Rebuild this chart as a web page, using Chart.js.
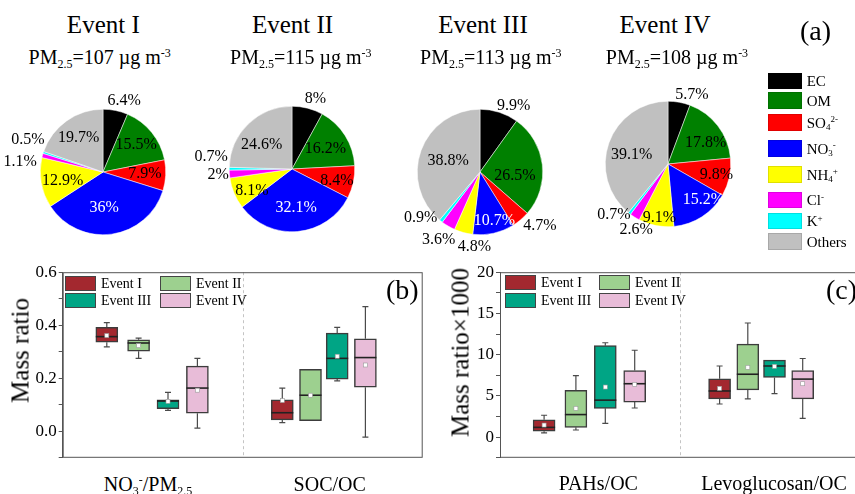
<!DOCTYPE html>
<html lang="en">
<head>
<meta charset="UTF-8">
<title>PM2.5 composition and mass ratios</title>
<script src="https://cdn.jsdelivr.net/npm/chart.js@4.4.0/dist/chart.umd.min.js"></script>
<style>
    body {
        margin: 0;
        width: 855px;
        height: 494px;
        position: relative;
        overflow: hidden;
        background: #fff;
        font-family: 'Liberation Serif', 'Times New Roman', serif;
        color: #000;
    }
    canvas { position: absolute; }
    .txt { position: absolute; white-space: nowrap; line-height: 1; }
    .center { text-align: center; width: 240px; }
    .s { position: relative; font-size: 0.6em; vertical-align: baseline; }
    .sub { top: 0.3em; }
    .sup { top: -0.6em; }
    .swatch { position: absolute; box-sizing: border-box; }
</style>
</head>
<body>
<div id="page"></div>
<script>
    // ---- panel (a): PM2.5 composition (%) ----
    const species = ['EC', 'OM', 'SO4 2-', 'NO3 -', 'NH4 +', 'Cl-', 'K+', 'Others'];
    const speciesHtml = ['EC', 'OM', 'SO<span class="s sub">4</span><span class="s sup">2-</span>',
        'NO<span class="s sub">3</span><span class="s sup">-</span>',
        'NH<span class="s sub">4</span><span class="s sup">+</span>',
        'Cl<span class="s sup">-</span>', 'K<span class="s sup">+</span>', 'Others'];
    const speciesColors = ['#000000', '#008000', '#ff0000', '#0000ff', '#ffff00', '#ff00ff', '#00ffff', '#c0c0c0'];

    const eventNames = ['Event I', 'Event II', 'Event III', 'Event IV'];
    const pm25 = [107, 115, 113, 108];
    const shareEventI = [6.4, 15.5, 7.9, 36, 12.9, 1.1, 0.5, 19.7];
    const shareEventII = [8, 16.2, 8.4, 32.1, 8.1, 2, 0.7, 24.6];
    const shareEventIII = [9.9, 26.5, 4.7, 10.7, 4.8, 3.6, 0.9, 38.8];
    const shareEventIV = [5.7, 17.8, 9.8, 15.2, 9.1, 2.6, 0.7, 39.1];
    const shares = [shareEventI, shareEventII, shareEventIII, shareEventIV];

    // ---- panel (b): mass ratios, rows = events, cols = [NO3-/PM2.5, SOC/OC] ----
    const bMin = [[0.318, 0.033], [0.275, 0.040], [0.079, 0.190], [0.012, -0.022]];
    const bQ1 = [[0.336, 0.043], [0.302, 0.040], [0.085, 0.197], [0.068, 0.166]];
    const bMedian = [[0.357, 0.070], [0.333, 0.136], [0.114, 0.275], [0.163, 0.278]];
    const bQ3 = [[0.392, 0.119], [0.345, 0.234], [0.119, 0.370], [0.246, 0.349]];
    const bMax = [[0.410, 0.163], [0.351, 0.234], [0.147, 0.392], [0.275, 0.470]];
    const bMean = [[0.361, 0.116], [0.323, 0.136], [0.113, 0.283], [0.155, 0.250]];

    // ---- panel (c): mass ratio x1000, cols = [PAHs/OC, Levoglucosan/OC] ----
    const cMin = [[0.52, 4.02], [0.87, 4.65], [1.67, 5.29], [3.54, 2.27]];
    const cQ1 = [[0.72, 4.65], [1.19, 5.73], [3.50, 7.24], [4.25, 4.65]];
    const cMedian = [[1.19, 5.60], [2.74, 7.63], [4.49, 8.63], [6.48, 7.04]];
    const cQ3 = [[2.10, 7.08], [5.69, 11.29], [11.09, 9.34], [8.07, 8.07]];
    const cMax = [[2.66, 8.63], [7.47, 13.84], [11.45, 9.34], [10.54, 9.54]];
    const cMean = [[1.47, 5.92], [3.50, 8.47], [6.08, 8.59], [6.40, 6.48]];

    const eventColors = ['#a3282f', '#9dd08f', '#00a585', '#e8bcd8'];

    // layout only
    const pieCenters = [[103.2, 171.7], [291.8, 168.5], [480.2, 171.8], [668.3, 164.4]];
    const titleX = [103.3, 292.5, 483, 665];
    const pmX = [99.7, 300.8, 490.8, 677];
    // [radius factor, angle shift in degrees] for each slice label
    const pieLabelPlace = [
        [[1.19, 5], [0.68, 0], [0.67, 0], [0.57, 6], [0.66, -3], [1.33, -8], [1.3, 5], [0.67, 0]],
        [[1.18, 4], [0.62, 1], [0.74, 2], [0.62, -1], [0.73, -6], [1.18, 0], [1.3, 8], [0.62, -7]],
        [[1.19, 9], [0.56, 12], [1.28, -8], [0.81, -4], [1.2, -11], [1.26, 1], [1.19, 14], [0.54, 0]],
        [[1.16, 9], [0.69, 8], [0.79, 0], [0.8, -12], [0.87, -2], [1.16, -6], [1.18, 9], [0.6, -5]]
    ];
    const slotX = [[0.47, 6.32], [1.53, 7.26], [2.51, 8.15], [3.49, 9.09]];

    Chart.defaults.font.family = "'Liberation Serif', 'Times New Roman', serif";
    Chart.defaults.color = '#000';

    const page = document.getElementById('page');

    function addText(html, left, top, size, cls) {
        const d = document.createElement('div');
        d.className = 'txt' + (cls ? ' ' + cls : '');
        d.style.left = left + 'px';
        d.style.top = top + 'px';
        d.style.fontSize = size + 'px';
        d.innerHTML = html;
        page.appendChild(d);
        return d;
    }

    function addCanvas(left, top, w, h) {
        const c = document.createElement('canvas');
        c.width = w;
        c.height = h;
        c.style.left = left + 'px';
        c.style.top = top + 'px';
        c.style.width = w + 'px';
        c.style.height = h + 'px';
        page.appendChild(c);
        return c;
    }

    // pie slice labels
    const pieLabels = {
        id: 'pieLabels',
        afterDatasetsDraw(chart, args, opts) {
            const ctx = chart.ctx;
            const meta = chart.getDatasetMeta(0);
            const values = chart.data.datasets[0].data;
            ctx.save();
            ctx.font = "16px 'Liberation Serif'";
            ctx.textAlign = 'center';
            ctx.textBaseline = 'middle';
            meta.data.forEach((arc, i) => {
                const p = arc.getProps(['x', 'y', 'startAngle', 'endAngle', 'outerRadius'], true);
                const place = opts.place[i];
                const a = (p.startAngle + p.endAngle) / 2 + place[1] * Math.PI / 180;
                const r = p.outerRadius * place[0];
                ctx.fillStyle = i === 3 ? '#fff' : '#000';
                ctx.fillText(values[i] + '%', p.x + r * Math.cos(a), p.y + r * Math.sin(a));
            });
            ctx.restore();
        }
    };

    shares.forEach((vals, e) => {
        const [cx, cy] = pieCenters[e];
        const cv = addCanvas(cx - 100, cy - 100, 200, 200);
        new Chart(cv, {
            type: 'pie',
            data: {
                labels: species,
                datasets: [{
                    data: vals,
                    backgroundColor: speciesColors,
                    borderColor: '#ffffff',
                    borderWidth: 0.5
                }]
            },
            options: {
                responsive: false,
                animation: false,
                layout: { padding: 37 },
                plugins: {
                    legend: { display: false },
                    tooltip: { enabled: false },
                    pieLabels: { place: pieLabelPlace[e] }
                }
            },
            plugins: [pieLabels]
        });
        addText(eventNames[e], titleX[e] - 120, 12, 25, 'center');
        addText('PM<span class="s sub">2.5</span>=' + pm25[e] + ' \u00b5g m<span class="s sup">-3</span>',
            pmX[e] - 120, 47, 20, 'center');
    });

    // pie legend
    const legendTops = [72.7, 92.3, 114.3, 140, 166, 191.7, 212.7, 233.3];
    species.forEach((s, i) => {
        const sw = document.createElement('div');
        sw.className = 'swatch';
        sw.style.cssText = `left:768.3px;top:${legendTops[i]}px;width:33.4px;height:16.6px;background:${speciesColors[i]};border:1px solid rgba(0,0,0,0.12);`;
        page.appendChild(sw);
        addText(speciesHtml[i], 806.7, legendTops[i] + 1.5, 15);
    });
    addText('(a)', 800, 17, 28);

    // box plot extras: whiskers, median, mean, frame, divider
    const boxExtras = {
        id: 'boxExtras',
        afterDatasetsDraw(chart) {
            const ctx = chart.ctx;
            const ys = chart.scales.y;
            const xs = chart.scales.x;
            const area = chart.chartArea;
            ctx.save();
            // divider
            ctx.strokeStyle = '#c4c4c4';
            ctx.lineWidth = 1;
            ctx.setLineDash([3, 3]);
            const dx = Math.round(xs.getPixelForValue(5)) + 0.5;
            ctx.beginPath();
            ctx.moveTo(dx, area.top);
            ctx.lineTo(dx, area.bottom);
            ctx.stroke();
            ctx.setLineDash([]);
            chart.data.datasets.forEach((ds, i) => {
                const meta = chart.getDatasetMeta(i);
                meta.data.forEach((bar, j) => {
                    const st = ds.stats;
                    const x = bar.x;
                    const hw = bar.width / 2;
                    const yMin = ys.getPixelForValue(st.min[j]);
                    const yMax = ys.getPixelForValue(st.max[j]);
                    const yQ1 = ys.getPixelForValue(st.q1[j]);
                    const yQ3 = ys.getPixelForValue(st.q3[j]);
                    ctx.strokeStyle = '#4a4a4a';
                    ctx.lineWidth = 1.2;
                    ctx.beginPath();
                    if (yMax < yQ3 - 0.5) {
                        ctx.moveTo(x, yQ3); ctx.lineTo(x, yMax);
                        ctx.moveTo(x - 3, yMax); ctx.lineTo(x + 3, yMax);
                    }
                    if (yMin > yQ1 + 0.5) {
                        ctx.moveTo(x, yQ1); ctx.lineTo(x, yMin);
                        ctx.moveTo(x - 3, yMin); ctx.lineTo(x + 3, yMin);
                    }
                    ctx.stroke();
                    const yMed = ys.getPixelForValue(st.median[j]);
                    ctx.strokeStyle = '#222';
                    ctx.lineWidth = 1.6;
                    ctx.beginPath();
                    ctx.moveTo(x - hw, yMed); ctx.lineTo(x + hw, yMed);
                    ctx.stroke();
                    const yMean = ys.getPixelForValue(st.mean[j]);
                    ctx.fillStyle = '#fff';
                    ctx.strokeStyle = '#999';
                    ctx.lineWidth = 0.6;
                    ctx.fillRect(x - 2, yMean - 2, 4, 4);
                    ctx.strokeRect(x - 2, yMean - 2, 4, 4);
                });
            });
            ctx.strokeStyle = '#555';
            ctx.lineWidth = 1;
            ctx.strokeRect(area.left + 0.5, area.top + 0.5, area.right - area.left - 1, area.bottom - area.top - 1);
            ctx.restore();
        }
    };

    function boxChart(canvas, mins, q1s, meds, q3s, maxs, means, yOpts, axisWidth, padding) {
        return new Chart(canvas, {
            type: 'bar',
            data: {
                datasets: eventNames.map((name, e) => ({
                    label: name,
                    data: slotX[e].map((sx, k) => ({ x: sx, y: [q1s[e][k], q3s[e][k]] })),
                    backgroundColor: eventColors[e],
                    borderColor: '#3c3c3c',
                    borderWidth: 1.5,
                    borderSkipped: false,
                    barThickness: 22,
                    grouped: false,
                    stats: { min: mins[e], q1: q1s[e], median: meds[e], q3: q3s[e], max: maxs[e], mean: means[e] }
                }))
            },
            options: {
                responsive: false,
                animation: false,
                layout: { padding: padding },
                plugins: { legend: { display: false }, tooltip: { enabled: false } },
                scales: {
                    x: { type: 'linear', min: 0, max: 10, display: false },
                    y: {
                        min: yOpts.min,
                        max: yOpts.max,
                        afterFit: (s) => { s.width = axisWidth; },
                        ticks: {
                            stepSize: yOpts.step,
                            autoSkip: false,
                            padding: 2,
                            color: '#000',
                            font: { size: 17 },
                            callback: yOpts.label
                        },
                        grid: { drawOnChartArea: false, drawTicks: true, tickLength: 4, color: '#555' },
                        border: { display: true, color: '#555' }
                    }
                }
            },
            plugins: [boxExtras]
        });
    }

    // panel (b)
    const cvB = addCanvas(0, 260, 430, 210);
    boxChart(cvB, bMin, bQ1, bMedian, bQ3, bMax, bMean, {
        min: -0.1, max: 0.6, step: 0.1,
        label: (v) => (Math.round(v * 10) % 2 === 0 && v > -0.05) ? (Math.abs(v) < 1e-9 ? 0 : v).toFixed(1) : ''
    }, 62.7, { top: 10.7, bottom: 10.7, left: 0, right: 7.3 });

    // panel (c)
    const cvC = addCanvas(430, 260, 435, 210);
    boxChart(cvC, cMin, cQ1, cMedian, cQ3, cMax, cMean, {
        min: -2.5, max: 20, step: 2.5,
        label: (v) => (Math.round(v / 2.5) % 2 === 0 && v > -1) ? String(Math.round(v)) : ''
    }, 70, { top: 10.7, bottom: 10.7, left: 0, right: 5 });

    // box legends
    const legB = [[65, 275.7], [160, 275.7], [65, 293.3], [160, 293.3]];
    const legC = [[505, 275], [599, 275], [505, 293.3], [599, 293.3]];
    [legB, legC].forEach(pos => {
        pos.forEach(([lx, ly], e) => {
            const sw = document.createElement('div');
            sw.className = 'swatch';
            sw.style.cssText = `left:${lx}px;top:${ly}px;width:31px;height:15px;background:${eventColors[e]};border:1.5px solid #444;`;
            page.appendChild(sw);
            addText(eventNames[e], lx + 36, ly + 1, 14);
        });
    });
    addText('(b)', 386, 275.5, 28);
    addText('(c)', 826, 275.5, 28);

    // axis titles
    const yt1 = addText('Mass ratio', 20 - 120, 350 - 12.5, 25, 'center');
    yt1.style.transform = 'rotate(-90deg)';
    const yt2 = addText('Mass ratio\u00d71000', 460 - 120, 352.5 - 12.5, 25, 'center');
    yt2.style.transform = 'rotate(-90deg)';

    // category labels
    addText('NO<span class="s sub">3</span><span class="s sup">-</span>/PM<span class="s sub">2.5</span>', 148 - 120, 474.3, 20, 'center');
    addText('SOC/OC', 329.7 - 120, 474.3, 20, 'center');
    addText('PAHs/OC', 598.3 - 120, 473.3, 20, 'center');
    addText('Levoglucosan/OC', 774 - 120, 473.3, 20, 'center');
</script>
</body>
</html>
